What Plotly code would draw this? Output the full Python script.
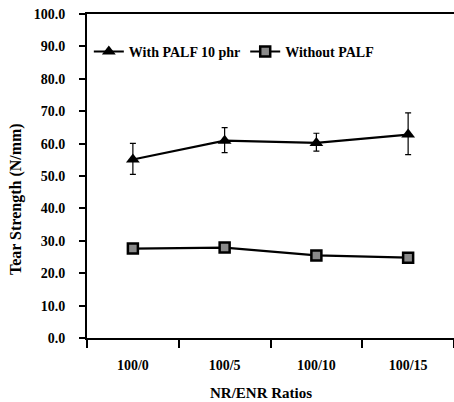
import plotly.graph_objects as go

categories = ["100/0", "100/5", "100/10", "100/15"]
with_palf = [55.1, 60.9, 60.2, 62.8]
with_palf_err_plus = [5.0, 4.0, 3.0, 6.7]
with_palf_err_minus = [4.6, 3.7, 2.5, 6.2]
without_palf = [27.6, 27.9, 25.5, 24.8]
y_ticks = [0, 10, 20, 30, 40, 50, 60, 70, 80, 90, 100]

FONT = "Liberation Serif"

fig = go.Figure()
fig.add_trace(go.Scatter(
    x=categories, y=with_palf, mode="lines+markers", name="With PALF 10 phr",
    line=dict(color="black", width=2.2),
    marker=dict(symbol="triangle-up", size=12, color="black"),
    error_y=dict(type="data", symmetric=False, array=with_palf_err_plus,
                 arrayminus=with_palf_err_minus, color="black", thickness=1.2, width=3),
))
fig.add_trace(go.Scatter(
    x=categories, y=without_palf, mode="lines+markers", name="Without PALF",
    line=dict(color="black", width=2.2),
    marker=dict(symbol="square", size=10, color="#8a8a8a", line=dict(color="black", width=2.5)),
))

fig.update_layout(
    width=454, height=402,
    margin=dict(l=87, r=0, t=14, b=64),
    paper_bgcolor="white", plot_bgcolor="white",
    font=dict(family=FONT, color="black"),
    showlegend=True,
    legend=dict(orientation="h", x=0.005, xanchor="left", y=0.883, yanchor="middle",
                font=dict(family=FONT, size=14, weight="bold"), bgcolor="rgba(0,0,0,0)",
                itemwidth=30, tracegroupgap=0),
    xaxis=dict(type="category", range=[-0.5, 3.5], showline=True, linecolor="black", linewidth=2,
               mirror=True, ticks="outside", ticklen=8, tickwidth=2, tickcolor="black",
               tickson="boundaries", showgrid=False, zeroline=False,
               tickfont=dict(family=FONT, size=14, weight="bold"), ticklabelstandoff=13),
    yaxis=dict(range=[0, 100], tickvals=y_ticks, tickformat=".1f", showline=True,
               linecolor="black", linewidth=2, ticks="outside", ticklen=6, tickwidth=1.5,
               tickcolor="black", showgrid=False, zeroline=False,
               tickfont=dict(family=FONT, size=14, weight="bold"), ticklabelstandoff=11),
    annotations=[
        dict(text="NR/ENR Ratios", xref="paper", yref="paper", x=(261 - 87) / 367, y=(338 - 393) / 324,
             xanchor="center", yanchor="middle", showarrow=False,
             font=dict(family=FONT, size=15, weight="bold")),
        dict(text="Tear Strength (N/mm)", xref="paper", yref="paper", x=(16 - 87) / 367,
             y=(338 - 199) / 324, xanchor="center", yanchor="middle", textangle=-90, showarrow=False,
             font=dict(family=FONT, size=16, weight="bold")),
    ],
)

fig.write_html("out.html")
